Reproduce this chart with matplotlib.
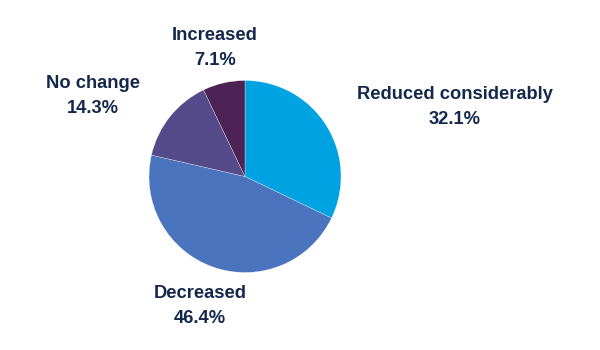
import matplotlib
matplotlib.use("Agg")
import matplotlib.pyplot as plt

# data
categories = ["Reduced considerably", "Decreased", "No change", "Increased"]
shares = [32.1, 46.4, 14.3, 7.1]
colors = ["#00a3e2", "#4a74bd", "#554b8b", "#4d2356"]

# label centres in pixels (x, y from top)
label_pos = [(455, 107), (200, 306), (93, 96), (215, 48)]

W, H = 600, 350
fig = plt.figure(figsize=(6, 3.5), dpi=100)
ax = fig.add_axes([0, 0, 1, 1])

ax.pie(shares, colors=colors, startangle=90, counterclock=False,
       center=(245, H - 176.5), radius=96, frame=True,
       wedgeprops=dict(edgecolor="white", linewidth=0.2))
ax.set_xlim(0, W)
ax.set_ylim(0, H)
ax.set_aspect("equal")
ax.axis("off")

for cat, val, (x, y) in zip(categories, shares, label_pos):
    ax.text(x, H - y, "%s\n%.1f%%" % (cat, val), ha="center", va="center",
            fontsize=13.2, fontweight="bold", color="#14284b",
            family="Liberation Sans", linespacing=1.6)

fig.savefig("out.png", dpi=100, facecolor="white")
